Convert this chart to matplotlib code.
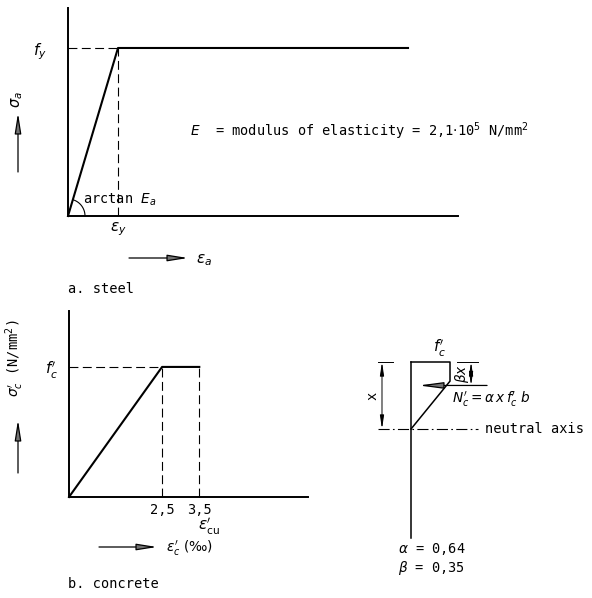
"""Idealised stress-strain diagrams for reinforcing steel and concrete,
with the equivalent compressive stress block of the concrete section."""

import numpy as np
import matplotlib
matplotlib.use("Agg")
from matplotlib import pyplot as plt

#-----------------------------------------------------------------------------
# Data
#-----------------------------------------------------------------------------

# steel: strain in units of eps_y, stress in units of f_y
steel_strain = [0.0, 1.0, 6.8]
steel_stress = [0.0, 1.0, 1.0]

# concrete: strain in permille, stress in units of f'c
concrete_strain = [0.0, 2.5, 3.5]
concrete_stress = [0.0, 1.0, 1.0]
concrete_ticks = [2.5, 3.5]
concrete_ticklabels = ["2,5", "3,5"]

# stress block parameters
alpha = 0.64
beta = 0.35
eps_c0 = 2.5
eps_cu = 3.5
section_depth = 2.63   # section height in units of x

#-----------------------------------------------------------------------------
# Layout helpers (pixel boxes on a 592 x 598 canvas)
#-----------------------------------------------------------------------------

W, H = 592, 598
plt.rcParams["font.family"] = ["DejaVu Sans Mono", "DejaVu Sans"]
plt.rcParams["font.size"] = 9.8
plt.rcParams["mathtext.fontset"] = "dejavusans"

fig = plt.figure(figsize=(W / 100, H / 100), dpi=100)


def box(x0, y0, x1, y1):
    return [x0 / W, 1 - y1 / H, (x1 - x0) / W, (y1 - y0) / H]


def fpos(x, y):
    return (x / W, 1 - y / H)


def ftext(x, y, s, **kw):
    kw.setdefault("va", "center")
    fig.text(x / W, 1 - y / H, s, **kw)


def farrow(x0, y0, x1, y1):
    fig.add_artist(plt.Annotation(
        "", xy=fpos(x1, y1), xytext=fpos(x0, y0),
        xycoords="figure fraction", textcoords="figure fraction",
        arrowprops=dict(arrowstyle="-|>,head_length=1.25,head_width=0.2",
                        lw=0.9, fc="0.45", ec="k", shrinkA=0, shrinkB=0)))


def diagram_axes(ax):
    for side in ("top", "right"):
        ax.spines[side].set_visible(False)
    for side in ("left", "bottom"):
        ax.spines[side].set_linewidth(1.4)
    ax.tick_params(length=0)


dash = dict(color="k", lw=0.8, dashes=(8, 4))

#-----------------------------------------------------------------------------
# a. steel
#-----------------------------------------------------------------------------

ax_a = fig.add_axes(box(68, 8, 458, 216))
diagram_axes(ax_a)
ax_a.set_xlim(0, 7.8)
ax_a.set_ylim(0, 1.238)
ax_a.plot(steel_strain, steel_stress, color="k", lw=1.5, clip_on=False)
ax_a.plot([0, steel_strain[1]], [steel_stress[1]] * 2, **dash)
ax_a.plot([steel_strain[1]] * 2, [0, steel_stress[1]], **dash)
ax_a.set_xticks([steel_strain[1]], [r"$\varepsilon_y$"], fontsize=11)
ax_a.set_yticks([steel_stress[1]], [r"$f_y$"], fontsize=11)
ax_a.tick_params(axis="y", pad=15)
ax_a.tick_params(axis="x", pad=3)

# angle arc at the origin, drawn circular in screen space
fig.canvas.draw()
p0 = ax_a.transData.transform((0, 0))
p1 = ax_a.transData.transform((steel_strain[1], steel_stress[1]))
ang = np.arctan2(p1[1] - p0[1], p1[0] - p0[0])
th = np.linspace(0, ang, 40)
arc = p0 + 17 * np.column_stack([np.cos(th), np.sin(th)])
arc = ax_a.transData.inverted().transform(arc)
ax_a.plot(arc[:, 0], arc[:, 1], color="k", lw=0.8, clip_on=False)

ftext(83, 200, r"arctan $E_a$")
ftext(190, 131, r"$E$  = modulus of elasticity = 2,1$\cdot$10$^5$ N/mm$^2$")
ftext(17, 100, r"$\sigma_a$", rotation=90, ha="center", fontsize=10.5)
farrow(18, 172, 18, 113)
farrow(129, 258, 188, 258)
ftext(196, 260, r"$\varepsilon_a$", fontsize=11)
ftext(68, 289, "a. steel")

#-----------------------------------------------------------------------------
# b. concrete
#-----------------------------------------------------------------------------

ax_b = fig.add_axes(box(69, 311, 308, 497))
diagram_axes(ax_b)
ax_b.set_xlim(0, 6.42)
ax_b.set_ylim(0, 1.43)
ax_b.plot(concrete_strain, concrete_stress, color="k", lw=1.5, clip_on=False)
ax_b.plot([0, concrete_strain[1]], [concrete_stress[1]] * 2, **dash)
for e in concrete_strain[1:]:
    ax_b.plot([e, e], [0, concrete_stress[1]], **dash)
ax_b.set_xticks(concrete_ticks, concrete_ticklabels)
ax_b.set_yticks([concrete_stress[1]], [r"$f^{\prime}_c$"], fontsize=11)
ax_b.tick_params(axis="y", pad=8)
ax_b.tick_params(axis="x", pad=4)
ax_b.annotate(r"$\varepsilon^{\prime}_{\mathrm{cu}}$", xy=(eps_cu, 0),
              xytext=(7, -21), textcoords="offset points",
              ha="center", va="center", fontsize=11)

ftext(15, 358, r"$\sigma^{\prime}_c$ (N/mm$^2$)", rotation=90, ha="center")
farrow(99, 547, 157, 547)
farrow(18, 473, 18, 420)
ftext(166, 548, r"$\varepsilon^{\prime}_c$ (‰)", family="DejaVu Sans")
ftext(68, 584, "b. concrete")

#-----------------------------------------------------------------------------
# stress block over the compression zone
#-----------------------------------------------------------------------------

ax_s = fig.add_axes(box(360, 335, 592, 598))
ax_s.set_xlim(-1.308, 4.641)
ax_s.set_ylim(3.522, -0.403)
ax_s.axis("off")

d_flat = 1 - eps_c0 / eps_cu
ax_s.plot([0, 0], [0, section_depth], color="k", lw=1.1)
ax_s.plot([0, 1, 1, 0], [0, 0, d_flat, 1], color="k", lw=1.1)
ax_s.plot([-0.85, 1.72], [1, 1], color="k", lw=0.8, dashes=(10, 3, 1.5, 3))
ax_s.text(1.9, 1, "neutral axis", va="center")
ax_s.text(0.74, -0.2, r"$f^{\prime}_c$", ha="center", va="center", fontsize=11)

# resultant compressive force
ax_s.annotate("", xy=(0.2, beta), xytext=(1.95, beta),
              arrowprops=dict(arrowstyle="-|>,head_length=1.5,head_width=0.2",
                              lw=0.9, fc="0.45", ec="k", shrinkA=0, shrinkB=0))
ax_s.text(1.05, 0.56, r"$N^{\prime}_c = \alpha\,x\,f^{\prime}_c\;b$", va="center")

# dimension lines for x and beta*x
dim = dict(arrowstyle="<|-|>,head_length=0.8,head_width=0.12",
           lw=0.7, fc="k", ec="k", shrinkA=0, shrinkB=0)
ax_s.plot([-0.85, -0.46], [0, 0], color="k", lw=0.7)
ax_s.annotate("", xy=(-0.744, 0), xytext=(-0.744, 1), arrowprops=dim)
ax_s.text(-1.0, 0.5, "x", rotation=90, ha="center", va="center")
ax_s.plot([1.18, 1.72], [0, 0], color="k", lw=0.7)
ax_s.annotate("", xy=(1.54, 0), xytext=(1.54, beta), arrowprops=dim)
ax_s.text(1.31, beta / 2, r"$\beta x$", rotation=90, ha="center", va="center")

ax_s.text(-0.33, 2.79, r"$\alpha$ = " + f"{alpha:.2f}".replace(".", ","),
          va="center")
ax_s.text(-0.33, 3.07, r"$\beta$ = " + f"{beta:.2f}".replace(".", ","),
          va="center")

fig.savefig("out.png", dpi=100)
